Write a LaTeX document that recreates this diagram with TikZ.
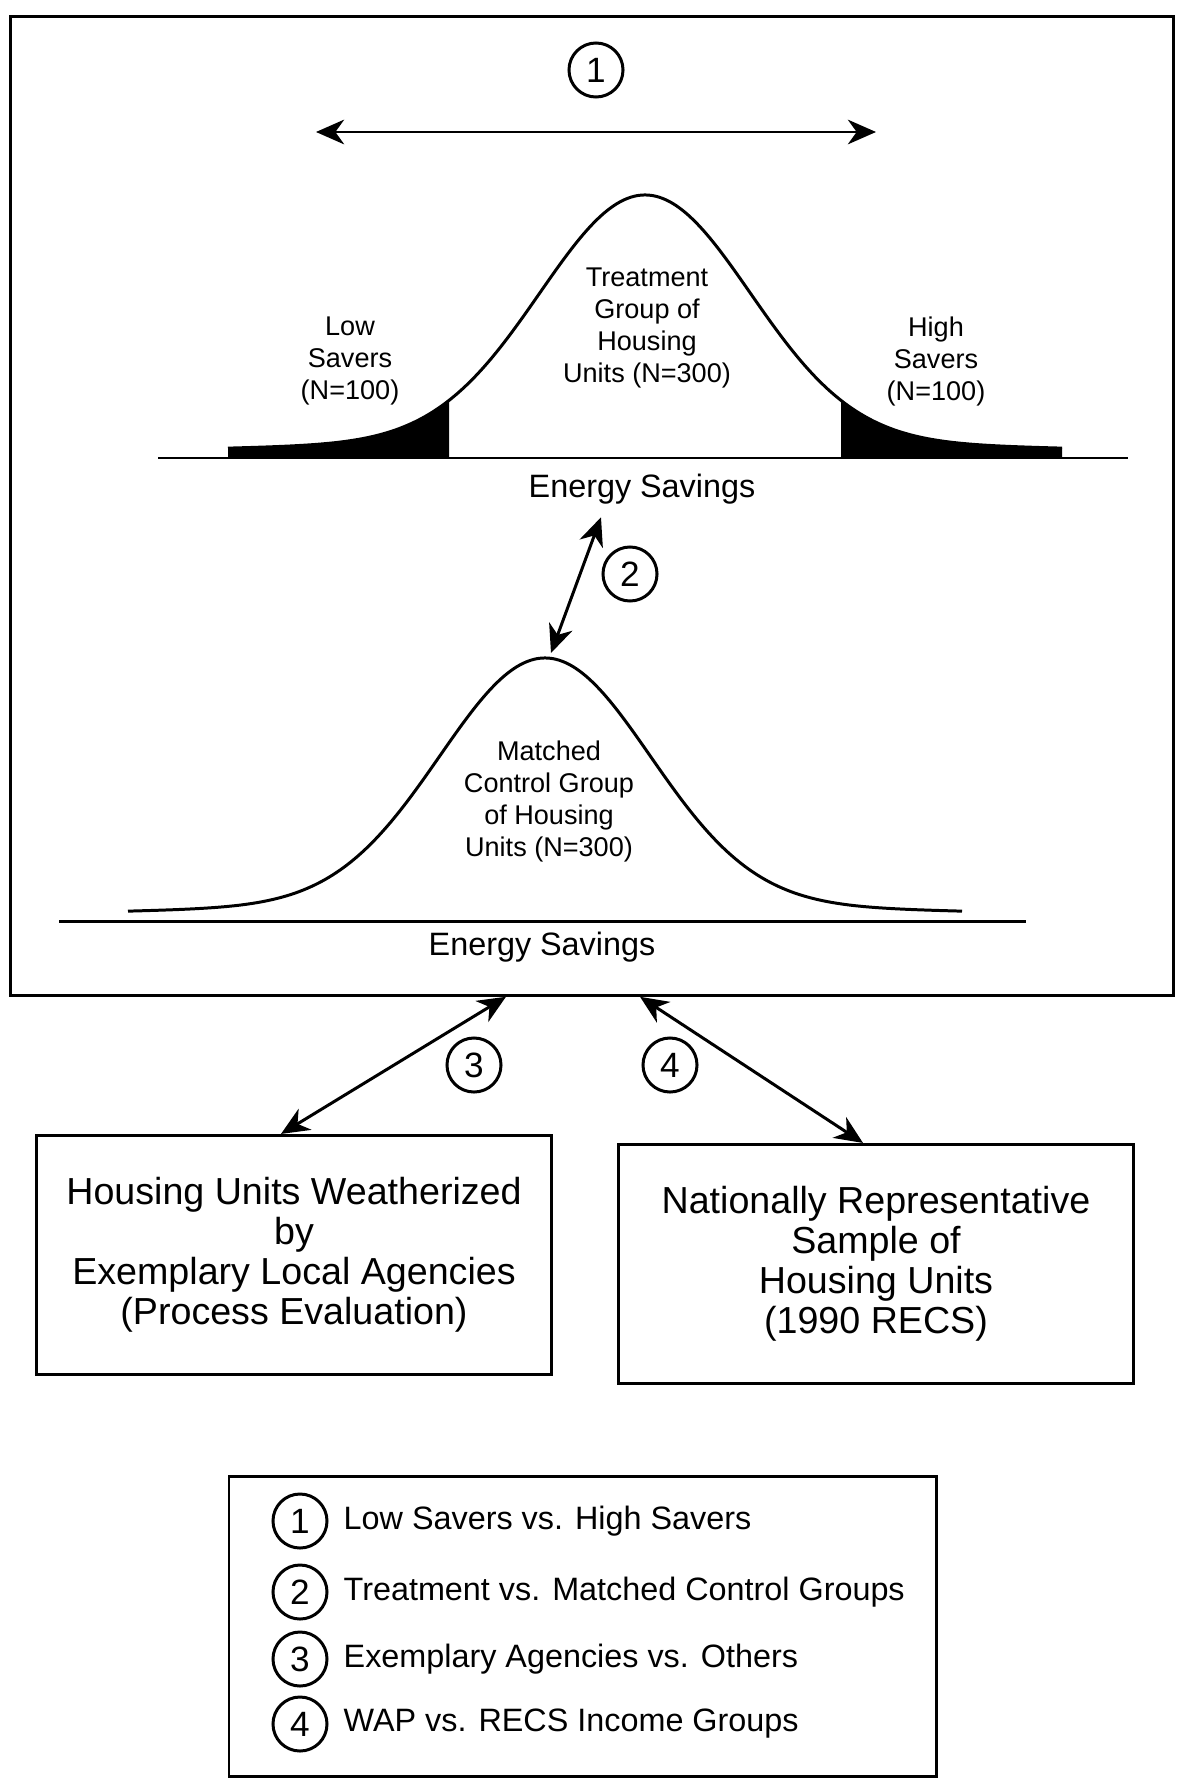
\documentclass[tikz,border=0pt]{standalone}
\usepackage{fontspec}
\setmainfont{Liberation Sans}
\usetikzlibrary{arrows.meta, positioning}

\begin{document}
\begin{tikzpicture}[x=0.01cm, y=-0.01cm, line width=0.85pt,
    declare function={bell(\d)=247*exp(-0.5*(\d/105)*(\d/105))+16*exp(-0.5*(\d/420)*(\d/420));},
    link/.style={{Stealth[length=8pt,width=7pt,inset=2.5pt]}-{Stealth[length=8pt,width=7pt,inset=2.5pt]}},
    num/.style={draw, circle, minimum size=0.54cm, inner sep=0pt, font=\fontsize{10}{12}\selectfont},
    grouplabel/.style={align=center, font=\fontsize{7.7}{9.1}\selectfont},
    axislabel/.style={font=\fontsize{9.2}{11}\selectfont},
    unitbox/.style={draw, minimum width=5.14cm, minimum height=2.39cm, align=center, font=\fontsize{10.7}{11.4}\selectfont},
    keytext/.style={font=\fontsize{9.2}{11}\selectfont}]
  \useasboundingbox (0,0) rectangle (1179,1779);

  % Outer frame
  \node[draw, minimum width=11.62cm, minimum height=9.78cm, inner sep=0pt] (frame) at (592,506) {};

  % Comparison 1
  \node[num] (n1) at (596,70) {1};
  \coordinate (lowend) at (316,132);
  \coordinate (highend) at (876,132);
  \draw[link] (lowend) -- (highend);

  % Treatment group
  \begin{scope}[shift={(645,458)}]
    \fill plot[domain=-417:-196, samples=40] (\x,{-bell(\x)}) -- (-196,0) -- (-417,0) -- cycle;
    \fill plot[domain=196:417, samples=40] (\x,{-bell(\x)}) -- (417,0) -- (196,0) -- cycle;
    \draw plot[domain=-417:417, samples=150, smooth] (\x,{-bell(\x)});
    \draw (-487,0) -- (483,0);
    \node[grouplabel] (treat) at (2,-130) {Treatment\\Group of\\Housing\\Units (N=300)};
    \node[grouplabel] (low) at (-295,-97) {Low\\Savers\\(N=100)};
    \node[grouplabel] (high) at (291,-97) {High\\Savers\\(N=100)};
    \node[axislabel] (es1) at (-3,31) {Energy Savings};
  \end{scope}

  % Matched control group
  \begin{scope}[shift={(545,921)}]
    \draw plot[domain=-417:417, samples=150, smooth] (\x,{-bell(\x)});
    \draw (-486,0) -- (481,0);
    \node[grouplabel] (matched) at (4,-120) {Matched\\Control Group\\of Housing\\Units (N=300)};
    \node[axislabel] (es2) at (-3,26) {Energy Savings};
    \coordinate (peak2) at (6,-268);
  \end{scope}

  % Comparison 2
  \node[num] (n2) at (630,574) {2};
  \draw[link] ([xshift=-0.41cm]es1.south) -- (peak2);

  % Comparison groups
  \node[unitbox] (exemplary) at (294,1255) {Housing Units Weatherized\\by\\Exemplary Local Agencies\\(Process Evaluation)};
  \node[unitbox] (recs) at (876,1264) {Nationally Representative\\Sample of\\Housing Units\\(1990 RECS)};
  \node[num] (n3) at (474,1065) {3};
  \node[num] (n4) at (670,1065) {4};
  \draw[link] ([xshift=-0.86cm]frame.south) -- ([xshift=-0.13cm]exemplary.north);
  \draw[link] ([xshift=0.48cm]frame.south) -- ([xshift=-0.13cm]recs.north);

  % Key
  \draw (229,1476) rectangle (936,1776);
  \node[num] (k1) at (300,1521) {1};
  \node[keytext, right=0.02cm of k1] (t1) {Low Savers vs. High Savers};
  \node[num] (k2) at (300,1592) {2};
  \node[keytext, right=0.02cm of k2] (t2) {Treatment vs. Matched Control Groups};
  \node[num] (k3) at (300,1659) {3};
  \node[keytext, right=0.02cm of k3] (t3) {Exemplary Agencies vs. Others};
  \node[num] (k4) at (300,1724) {4};
  \node[keytext, right=0.02cm of k4] (t4) {WAP vs. RECS Income Groups};
\end{tikzpicture}
\end{document}
